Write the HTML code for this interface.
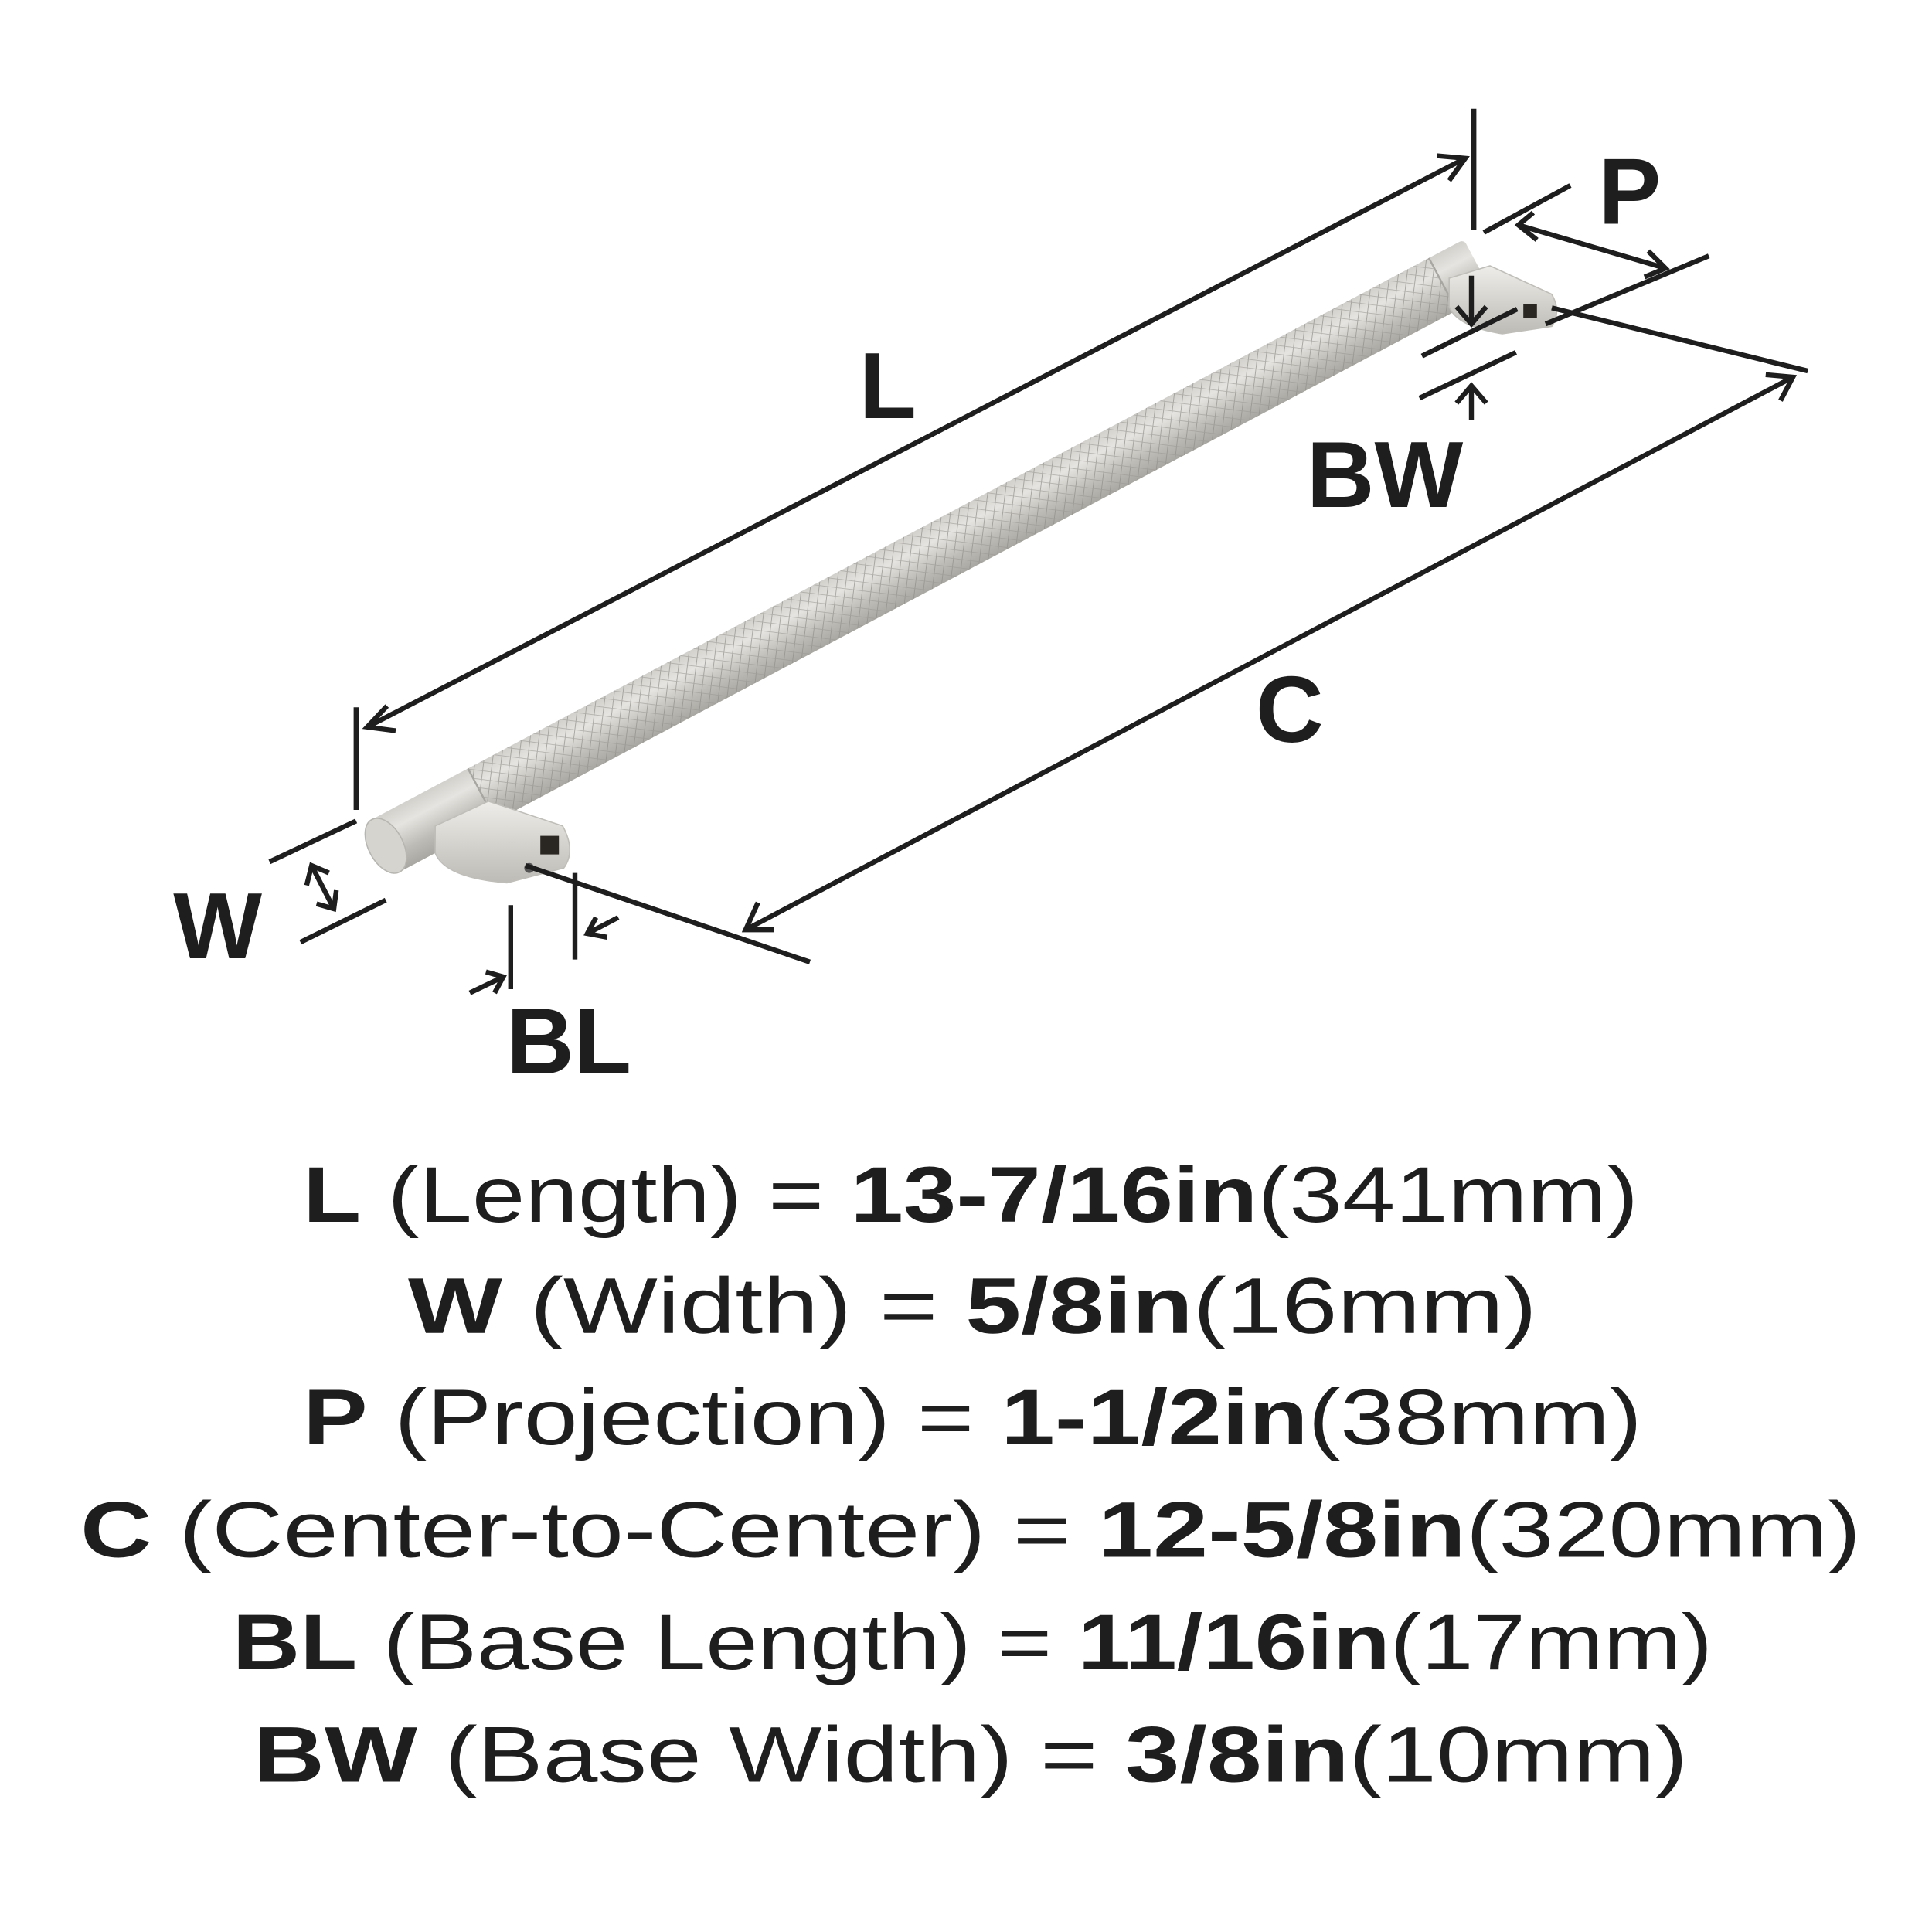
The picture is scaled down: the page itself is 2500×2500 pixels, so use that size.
<!DOCTYPE html>
<html><head><meta charset="utf-8"><style>
html,body{margin:0;padding:0;background:#fff}
svg{display:block}
</style></head><body>
<svg width="2500" height="2500" viewBox="0 0 1562.5 1562.5" xmlns="http://www.w3.org/2000/svg">
<defs>
<linearGradient id="bar" x1="0" y1="0" x2="0" y2="1">
<stop offset="0" stop-color="#d2d0cb"/><stop offset="0.3" stop-color="#e6e4e0"/><stop offset="0.7" stop-color="#bebcb6"/><stop offset="1" stop-color="#a9a7a1"/>
</linearGradient>
<linearGradient id="post" x1="0" y1="0" x2="0" y2="1">
<stop offset="0" stop-color="#eeede9"/><stop offset="0.5" stop-color="#d6d4cf"/><stop offset="1" stop-color="#bdbbb5"/>
</linearGradient>
<pattern id="knurl" width="7" height="7" patternUnits="userSpaceOnUse" patternTransform="rotate(35)">
<line x1="0" y1="0" x2="0" y2="7" stroke="#8f8d88" stroke-width="1.2"/>
<line x1="0" y1="0" x2="7" y2="0" stroke="#9a9893" stroke-width="1"/>
</pattern>
</defs>

<g transform="translate(312,684) rotate(-27.98)">
<rect x="0" y="-24" width="1000" height="48" rx="4" fill="url(#bar)"/>
<rect x="88" y="-24" width="880" height="48" fill="url(#knurl)" opacity="0.7"/>
<line x1="88" y1="-24" x2="88" y2="24" stroke="#a8a6a1" stroke-width="1.5"/>
<line x1="968" y1="-24" x2="968" y2="24" stroke="#a8a6a1" stroke-width="1.5"/>
<ellipse cx="0" cy="0" rx="14" ry="24" fill="#d6d4cf" stroke="#b8b6b0" stroke-width="1"/>
</g>
<path d="M352,668 L395,648 L455,668 Q466,688 456,702 L410,714 Q360,710 352,690 Z" fill="url(#post)" stroke="#c0beb8" stroke-width="1"/>
<rect x="437" y="676" width="15" height="15" fill="#2a2622"/>
<circle cx="428" cy="702" r="4" fill="#555"/>
<path d="M1172,225 L1205,215 L1255,238 Q1263,252 1255,264 L1215,270 Q1178,264 1172,248 Z" fill="url(#post)" stroke="#c0beb8" stroke-width="1"/>
<rect x="1232" y="246" width="11" height="11" fill="#2a2622"/>

<g stroke="#1e1e1e" stroke-width="4" fill="none" stroke-linecap="butt">
<line x1="297" y1="588" x2="1185" y2="128"/>
<polyline points="313,571 297,588 320,591"/>
<polyline points="1162,126 1185,128 1172,146"/>
<line x1="1192" y1="88" x2="1192" y2="186"/>
<line x1="288" y1="572" x2="288" y2="655"/>
<line x1="1200" y1="188" x2="1270" y2="150"/>
<line x1="1250" y1="262" x2="1382" y2="207"/>
<line x1="1228" y1="182" x2="1347" y2="217"/>
<polyline points="1240,172 1228,182 1243,194"/>
<polyline points="1333,203 1347,217 1330,224"/>
<line x1="1255" y1="249" x2="1462" y2="300"/>
<line x1="603" y1="752" x2="1450" y2="305"/>
<polyline points="1428,303 1450,305 1440,324"/>
<polyline points="613,730 603,752 626,752"/>
<line x1="425" y1="700" x2="655" y2="778"/>
<line x1="1150" y1="288" x2="1227" y2="250"/>
<line x1="1148" y1="322" x2="1226" y2="285"/>
<line x1="1190" y1="223" x2="1190" y2="262"/>
<polyline points="1178,248 1190,262 1202,248"/>
<line x1="1190" y1="340" x2="1190" y2="312"/>
<polyline points="1178,326 1190,312 1202,326"/>
<line x1="218" y1="697" x2="288" y2="664"/>
<line x1="243" y1="762" x2="312" y2="728"/>
<line x1="252" y1="700" x2="270" y2="735"/>
<polyline points="248,716 252,700 266,706"/>
<polyline points="256,731 270,735 272,720"/>
<line x1="413" y1="732" x2="413" y2="800"/>
<line x1="465" y1="706" x2="465" y2="776"/>
<line x1="380" y1="803" x2="407" y2="790"/>
<polyline points="393,786 407,790 400,803"/>
<line x1="500" y1="742" x2="475" y2="755"/>
<polyline points="482,742 475,755 491,758"/>
</g>

<g font-family="Liberation Sans, sans-serif" font-weight="bold" fill="#1e1e1e" text-anchor="middle" font-size="76">
<text x="718" y="338">L</text>
<text x="1318" y="181">P</text>
<text x="1120" y="410">BW</text>
<text x="1043" y="600">C</text>
<text x="176" y="775">W</text>
<text x="460" y="868">BL</text>
</g>

<g font-family="Liberation Sans, sans-serif" fill="#1e1e1e" font-size="64">
<text x="245" y="988" textLength="1080" lengthAdjust="spacingAndGlyphs"><tspan font-weight="bold">L</tspan> (Length) = <tspan font-weight="bold">13-7/16in</tspan>(341mm)</text>
<text x="330" y="1078" textLength="913" lengthAdjust="spacingAndGlyphs"><tspan font-weight="bold">W</tspan> (Width) = <tspan font-weight="bold">5/8in</tspan>(16mm)</text>
<text x="245" y="1168" textLength="1083" lengthAdjust="spacingAndGlyphs"><tspan font-weight="bold">P</tspan> (Projection) = <tspan font-weight="bold">1-1/2in</tspan>(38mm)</text>
<text x="65" y="1259" textLength="1440" lengthAdjust="spacingAndGlyphs"><tspan font-weight="bold">C</tspan> (Center-to-Center) = <tspan font-weight="bold">12-5/8in</tspan>(320mm)</text>
<text x="188" y="1350" textLength="1197" lengthAdjust="spacingAndGlyphs"><tspan font-weight="bold">BL</tspan> (Base Length) = <tspan font-weight="bold">11/16in</tspan>(17mm)</text>
<text x="205" y="1441" textLength="1160" lengthAdjust="spacingAndGlyphs"><tspan font-weight="bold">BW</tspan> (Base Width) = <tspan font-weight="bold">3/8in</tspan>(10mm)</text>
</g>
</svg>
</body></html>
